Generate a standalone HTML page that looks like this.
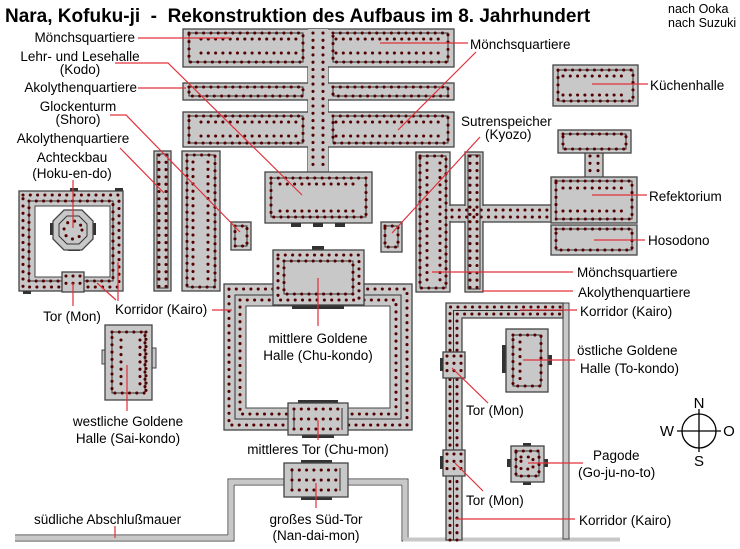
<!DOCTYPE html>
<html><head><meta charset="utf-8"><style>
html,body{margin:0;padding:0;background:#fff;}
svg{display:block;font-family:"Liberation Sans",sans-serif;}
.b{fill:#c8c8c8;stroke:#444;stroke-width:1.3}
.l{fill:none;stroke:#333;stroke-width:1}
.d{fill:none;stroke:#500;stroke-width:3.1;stroke-linecap:round;stroke-dasharray:0 7.3}
.t{fill:#333}
.r{stroke:#e0303a;stroke-width:1.2;fill:none}
text{font-size:13.5px;fill:#000}
.w{fill:#c8c8c8;stroke:#444;stroke-width:1}
</style></head><body>
<svg width="740" height="549" viewBox="0 0 740 549">
<text x="5" y="22" xml:space="preserve" style="font-size:19px;font-weight:bold;white-space:pre">Nara, Kofuku-ji  -  Rekonstruktion des Aufbaus im 8. Jahrhundert</text>
<text x="668" y="13" style="font-size:12.5px">nach Ooka</text>
<text x="668" y="27" style="font-size:12.5px">nach Suzuki</text>

<path d="M15 535 H228 V479 H284 M348 479 H408 V538 H620 M15 541 H234 V485 H284 M348 485 H402 V541 H620" fill="none" stroke="#444" stroke-width="1"/>
<path d="M15 538 H231 V482 H284 M348 482 H405 V539.5 H620" fill="none" stroke="#c8c8c8" stroke-width="4"/>
<rect x="563" y="303" width="6" height="236" class="w"/>

<rect x="308" y="29" width="20" height="145" class="b"/>
<rect x="183" y="29" width="271" height="38" class="b"/>
<rect x="183" y="83" width="271" height="17" class="b"/>
<rect x="183" y="112" width="271" height="35" class="b"/>
<rect x="308" y="29" width="20" height="145" fill="#c8c8c8"/>
<rect x="189" y="33" width="114" height="29" class="l"/><rect x="189" y="33" width="114" height="29" class="d"/>
<path d="M201 39 H300 M201 53 H300" class="d"/>
<rect x="333" y="33" width="115" height="29" class="l"/><rect x="333" y="33" width="115" height="29" class="d"/>
<path d="M336 39 H440 M336 53 H440" class="d"/>
<rect x="189" y="87" width="114" height="9" class="l"/><rect x="189" y="87" width="114" height="9" class="d"/>
<rect x="333" y="87" width="115" height="9" class="l"/><rect x="333" y="87" width="115" height="9" class="d"/>
<rect x="189" y="116" width="114" height="27" class="l"/><rect x="189" y="116" width="114" height="27" class="d"/>
<path d="M201 122 H300 M201 136 H300" class="d"/>
<rect x="333" y="116" width="115" height="27" class="l"/><rect x="333" y="116" width="115" height="27" class="d"/>
<path d="M336 122 H440 M336 136 H440" class="d"/>
<path d="M313 33 V170 M323 33 V170" class="d"/>
<rect x="265" y="172" width="107" height="51" class="b"/>
<rect x="271" y="178" width="95" height="39" class="l"/><rect x="271" y="178" width="95" height="39" class="d"/>
<path d="M280 184 H360 M280 211 H360" class="d"/>
<rect x="291" y="223" width="10" height="4" class="t"/><rect x="313" y="223" width="10" height="4" class="t"/><rect x="335" y="223" width="10" height="4" class="t"/>
<rect x="154" y="151" width="17" height="140" class="b"/>
<path d="M159 155 V287 M166 155 V287" class="d"/><rect x="157" y="154" width="11" height="134" class="l"/>
<rect x="182" y="151" width="38" height="140" class="b"/>
<rect x="187" y="155" width="28" height="132" class="l"/><rect x="187" y="155" width="28" height="132" class="d"/>
<path d="M193 162 V280 M208 162 V280" class="d"/>
<rect x="231" y="222" width="20" height="28" class="b"/>
<rect x="235" y="226" width="12" height="20" class="l"/><rect x="235" y="226" width="12" height="20" class="d"/>
<rect x="381" y="222" width="21" height="30" class="b"/>
<rect x="385" y="226" width="13" height="21" class="l"/><rect x="385" y="226" width="13" height="21" class="d"/>
<rect x="450" y="205" width="103" height="17" class="b"/>
<rect x="416" y="152" width="34" height="140" class="b"/>
<rect x="465" y="152" width="18" height="140" class="b"/>
<rect x="449" y="206" width="17" height="15" fill="#c8c8c8"/>
<rect x="482" y="206" width="3" height="15" fill="#c8c8c8"/>
<path d="M452 210 H550 M452 217 H550" class="d"/>
<rect x="420" y="156" width="26" height="132" class="l"/><rect x="420" y="156" width="26" height="132" class="d"/>
<path d="M427 163 V281 M440 163 V281" class="d"/>
<rect x="468" y="155" width="12" height="134" class="l"/><path d="M470 156 V288 M477 156 V288" class="d"/>
<rect x="585" y="150" width="18" height="30" class="b"/>
<path d="M590 156 V176 M598 156 V176" class="d"/>
<rect x="558" y="130" width="73" height="23" class="b"/>
<rect x="563" y="134" width="63" height="15" class="l"/><rect x="563" y="134" width="63" height="15" class="d"/>
<rect x="551" y="177" width="86" height="46" class="b"/>
<rect x="556" y="181" width="76" height="38" class="l"/><rect x="556" y="181" width="76" height="38" class="d"/>
<path d="M563 188 H626 M563 211 H626" class="d"/>
<rect x="551" y="225" width="86" height="30" class="b"/>
<rect x="556" y="229" width="76" height="21" class="l"/><rect x="556" y="229" width="76" height="21" class="d"/>
<rect x="553" y="65" width="85" height="41" class="b"/>
<rect x="558" y="70" width="75" height="31" class="l"/><rect x="558" y="70" width="75" height="31" class="d"/>
<path d="M563 76 H628 M563 95 H628" class="d"/>

<rect x="19" y="191" width="104" height="100" class="b"/>
<rect x="35" y="206" width="75" height="71" fill="#fff" stroke="#444"/>
<rect x="23" y="195" width="96" height="92" class="d"/>
<rect x="29" y="201" width="84" height="80" class="l"/><rect x="29" y="201" width="84" height="80" class="d"/>
<rect x="70" y="188" width="8" height="3" class="t"/><rect x="115" y="188" width="8" height="3" class="t"/><rect x="23" y="291" width="8" height="3" class="t"/>
<rect x="62" y="272" width="22" height="20" class="b"/>
<path d="M66 276 V288 M73 276 V288 M80 276 V288" class="d"/>
<rect x="50" y="223" width="4" height="12" class="t"/><rect x="92" y="223" width="4" height="12" class="t"/>
<rect x="68" y="247" width="12" height="4" class="t"/>
<polygon points="64,210 82,210 93,221 93,239 82,250 64,250 53,239 53,221" class="b"/>
<polygon points="67,216 79,216 87,224 87,236 79,244 67,244 59,236 59,224" class="l"/>
<circle cx="73" cy="230" r="9" class="d"/>

<rect x="224" y="284" width="188" height="146" class="b"/>
<rect x="246" y="306" width="144" height="102" fill="#fff" stroke="#444"/>
<rect x="229" y="289" width="178" height="136" class="d"/>
<rect x="235" y="295" width="166" height="124" class="l"/><rect x="240" y="300" width="156" height="114" class="d"/>
<rect x="312" y="246" width="12" height="4" class="t"/>
<rect x="292" y="305" width="52" height="4" class="t"/>
<rect x="273" y="250" width="91" height="55" class="b"/>
<rect x="278" y="255" width="81" height="45" class="d"/>
<rect x="284" y="261" width="69" height="33" class="l"/><rect x="284" y="261" width="69" height="33" class="d"/>
<rect x="298" y="400" width="40" height="3" class="t"/><rect x="302" y="435" width="32" height="3" class="t"/>
<rect x="288" y="403" width="60" height="32" class="b"/>
<path d="M294 408 V430 M342 408 V430" class="l"/>
<path d="M294 409 H342 M294 419 H342 M294 429 H342" class="d"/>
<rect x="301" y="460" width="31" height="3" class="t"/><rect x="301" y="497" width="31" height="3" class="t"/>
<rect x="284" y="463" width="64" height="34" class="b"/>
<path d="M292 468 V491 M340 468 V491" class="l"/>
<path d="M292 470 H340 M292 480 H340 M292 490 H340" class="d"/>

<rect x="102" y="350" width="3" height="14" class="w"/><rect x="152" y="348" width="4" height="20" class="w"/>
<rect x="105" y="325" width="47" height="75" class="b"/>
<rect x="112" y="332" width="33" height="61" class="l"/><rect x="112" y="332" width="33" height="61" class="d"/>
<path d="M121 340 V386 M140 340 V386 M146 332 V393" class="d"/>

<path d="M446 540 V303 H563 V318 H462 V540 Z" class="b"/>
<path d="M450 540 V307 H563 M457 540 V314 H563" class="d"/>
<path d="M453.5 540 V310.5 H563" class="l"/>
<rect x="443" y="352" width="22" height="26" class="b"/><rect x="440" y="358" width="3" height="13" class="t"/>
<rect x="443" y="450" width="22" height="26" class="b"/><rect x="440" y="456" width="3" height="13" class="t"/>
<path d="M447 356 V375 M454 356 V375 M461 356 V375 M447 454 V473 M454 454 V473 M461 454 V473" class="d"/>
<rect x="502" y="345" width="5" height="28" class="t"/><rect x="548" y="355" width="4" height="10" class="t"/>
<rect x="506" y="329" width="42" height="63" class="b"/>
<rect x="513" y="335" width="28" height="51" class="l"/><rect x="513" y="335" width="28" height="51" class="d"/>
<path d="M520 342 V380" class="d"/>
<rect x="523" y="443" width="8" height="3" class="t"/><rect x="523" y="482" width="8" height="3" class="t"/>
<rect x="507" y="459" width="4" height="8" class="t"/><rect x="544" y="459" width="4" height="8" class="t"/>
<rect x="511" y="446" width="33" height="36" class="b"/>
<rect x="516" y="451" width="23" height="25" class="l"/><rect x="516" y="451" width="23" height="25" class="d"/>
<rect x="521" y="457" width="12" height="12" class="d"/>

<circle cx="699" cy="431" r="17" fill="none" stroke="#000" stroke-width="1.3"/>
<path d="M699 409 V452 M677 431 H721" stroke="#000" stroke-width="1.3"/>
<text x="699" y="408" text-anchor="middle" style="font-size:15px">N</text>
<text x="699" y="466" text-anchor="middle" style="font-size:15px">S</text>
<text x="667" y="436" text-anchor="middle" style="font-size:15px">W</text>
<text x="729" y="436" text-anchor="middle" style="font-size:15px">O</text>

<path class="r" d="M138 38 H230 M115 63 H168 L302 195 M138 88 H186 M110 115 H126 L240 232 M120 148 L164 193 M73 180 V228 M73 283 V306 M97 283 L116 300 M118 262 V301 M212 310 H232
M380 43 H468 M476 52 L398 130 M480 137 L392 233 M592 84 H648 M592 195 H647 M594 240 H645 M432 272 H573 M482 291 H573 M520 310 H577 M523 360 H575 M452 368 L488 403 M528 463 H583 M455 463 L483 491 M456 519 H575
M318 278 V326 M127 365 V411 M318 420 V440 M316 483 V508 M115 526 V538"/>

<g>
<text x="135" y="42" text-anchor="end">Mönchsquartiere</text>
<text x="80" y="61" text-anchor="middle">Lehr- und Lesehalle</text>
<text x="80" y="74" text-anchor="middle">(Kodo)</text>
<text x="137" y="92" text-anchor="end">Akolythenquartiere</text>
<text x="78" y="111" text-anchor="middle">Glockenturm</text>
<text x="78" y="124" text-anchor="middle">(Shoro)</text>
<text x="73" y="143" text-anchor="middle">Akolythenquartiere</text>
<text x="72" y="162" text-anchor="middle">Achteckbau</text>
<text x="72" y="178" text-anchor="middle">(Hoku-en-do)</text>
<text x="72" y="321" text-anchor="middle">Tor (Mon)</text>
<text x="115" y="314">Korridor (Kairo)</text>
<text x="318" y="343" text-anchor="middle">mittlere Goldene</text>
<text x="318" y="360" text-anchor="middle">Halle (Chu-kondo)</text>
<text x="128" y="426" text-anchor="middle">westliche Goldene</text>
<text x="128" y="443" text-anchor="middle">Halle (Sai-kondo)</text>
<text x="318" y="454" text-anchor="middle">mittleres Tor (Chu-mon)</text>
<text x="316" y="524" text-anchor="middle">großes Süd-Tor</text>
<text x="316" y="540" text-anchor="middle">(Nan-dai-mon)</text>
<text x="34" y="524">südliche Abschlußmauer</text>
<text x="470" y="49">Mönchsquartiere</text>
<text x="461" y="126">Sutrenspeicher</text>
<text x="485" y="139">(Kyozo)</text>
<text x="650" y="90">Küchenhalle</text>
<text x="649" y="201">Refektorium</text>
<text x="648" y="245">Hosodono</text>
<text x="577" y="277">Mönchsquartiere</text>
<text x="578" y="297">Akolythenquartiere</text>
<text x="580" y="316">Korridor (Kairo)</text>
<text x="577" y="355">östliche Goldene</text>
<text x="580" y="373">Halle (To-kondo)</text>
<text x="466" y="415">Tor (Mon)</text>
<text x="593" y="460">Pagode</text>
<text x="578" y="477">(Go-ju-no-to)</text>
<text x="466" y="505">Tor (Mon)</text>
<text x="579" y="525">Korridor (Kairo)</text>
</g>
</svg>
</body></html>
